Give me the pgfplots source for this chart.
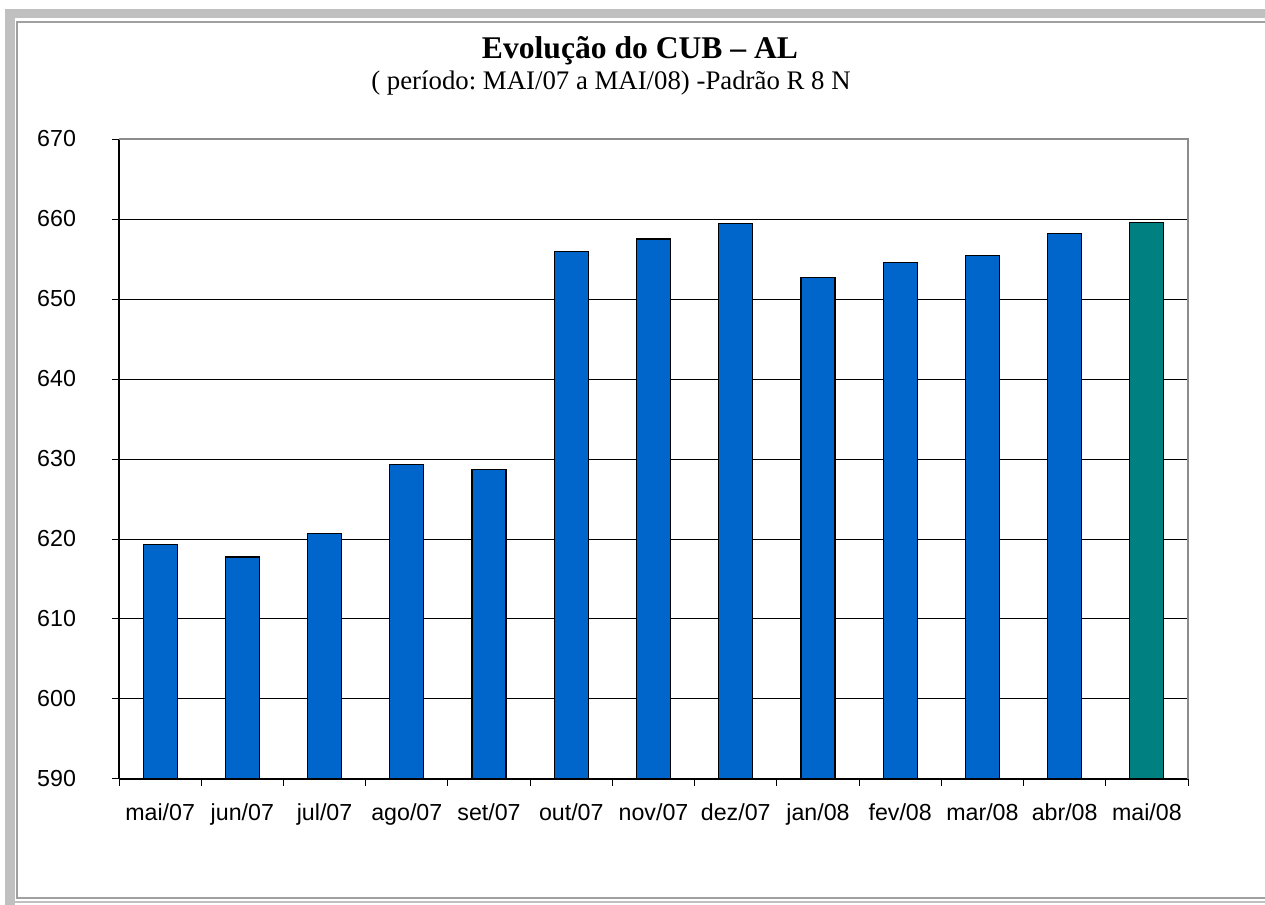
\documentclass[border=0pt]{standalone}
\usepackage{pgfplots}
\pgfplotsset{compat=1.18}
\usepackage{fontspec}
\setmainfont{Liberation Serif}
\newfontfamily\arial{Liberation Sans}
\definecolor{barblue}{HTML}{0066CC}
\definecolor{barteal}{HTML}{008080}
\definecolor{frameg}{HTML}{C0C0C0}
\definecolor{frameline}{HTML}{A0A0A0}
\definecolor{border}{HTML}{8C8C8C}
\frenchspacing
\begin{document}
\begin{tikzpicture}
\useasboundingbox (-59.5pt,-63pt) rectangle (573pt,389.5pt);
\fill[frameg] (-57pt,-63pt) rectangle (-52pt,385pt);
\fill[frameg] (-57pt,385pt) rectangle (573pt,380.5pt);
\draw[frameline, line width=0.6pt] (573pt,378.5pt) -- (-51pt,378.5pt) -- (-51pt,-59.5pt) -- (573pt,-59.5pt);
\draw[frameg, line width=0.6pt] (-52pt,-61.5pt) -- (573pt,-61.5pt);
\begin{axis}[
  name=ax,
  at={(0pt,0pt)}, anchor=south west, scale only axis,
  width=534.5pt, height=320pt,
  xmin=-0.5, xmax=12.5, ymin=590, ymax=670,
  ybar, bar width=17pt, bar shift=0pt,
  axis x line*=bottom, axis y line*=left,
  axis line style={-, black, line width=0.8pt},
  tick align=outside,
  major tick length=0pt, minor tick length=3.5pt,
  xtick={0,...,12},
  xticklabels={mai/07,jun/07,jul/07,ago/07,set/07,out/07,nov/07,dez/07,jan/08,fev/08,mar/08,abr/08,mai/08},
  minor xtick={-0.5,0.5,...,12.5},
  ytick={590,600,...,670},
  minor ytick={590,600,...,670},
  minor tick style={black, line width=0.5pt},
  ymajorgrids, grid style={black, line width=0.5pt},
  tick label style={font=\arial\fontsize{11.6}{13}\selectfont},
  yticklabel style={xshift=-18pt},
  xticklabel style={yshift=-9pt},
  /pgf/number format/assume math mode=true,
]
\addplot[fill=barblue, draw=black, line width=0.6pt] coordinates {
(0,619.3) (1,617.75) (2,620.7) (3,629.3) (4,628.7) (5,655.9) (6,657.5)
(7,659.4) (8,652.7) (9,654.6) (10,655.4) (11,658.2)};
\addplot[fill=barteal, draw=black, line width=0.6pt] coordinates {(12,659.6)};
\end{axis}
\draw[border, line width=0.6pt] (ax.north west) -- (ax.north east) -- (ax.south east);
\node[anchor=base, font=\bfseries\fontsize{15.8}{18}\selectfont] at (260.5pt,360pt) {Evolução do CUB – AL};
\node[anchor=base, font=\fontsize{13.4}{16}\selectfont] at (246pt,344.5pt) {( período: MAI/07 a MAI/08) -Padrão R 8 N};
\end{tikzpicture}
\end{document}
